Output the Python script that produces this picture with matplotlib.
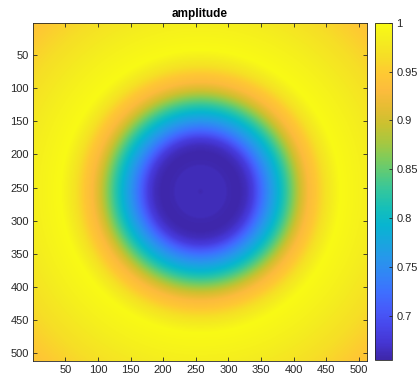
import numpy as np
import matplotlib.pyplot as plt
from matplotlib.colors import LinearSegmentedColormap

plt.rcParams['font.family'] = ['Liberation Sans', 'DejaVu Sans']

# radial amplitude profile (distance from centre in pixels)
radius = [0, 3, 6, 38, 42, 60, 70, 80, 96, 107, 122, 141, 153, 165, 176, 191, 214, 256, 300, 340, 365]
amplitude = [0.658, 0.660, 0.663, 0.663, 0.658, 0.657, 0.664, 0.68, 0.73, 0.76, 0.80, 0.86,
             0.90, 0.93, 0.945, 0.97, 0.998, 0.985, 0.968, 0.95, 0.94]
n_pix = 512
clim = (0.655, 1.0)
x_ticks = [50, 100, 150, 200, 250, 300, 350, 400, 450, 500]
y_ticks = [50, 100, 150, 200, 250, 300, 350, 400, 450, 500]
cbar_ticks = [0.7, 0.75, 0.8, 0.85, 0.9, 0.95, 1.0]
cbar_labels = ['0.7', '0.75', '0.8', '0.85', '0.9', '0.95', '1']

# parula-like colormap
parula = LinearSegmentedColormap.from_list('parula', [
    (0.2422, 0.1504, 0.6603), (0.2691, 0.2094, 0.8249), (0.2803, 0.2782, 0.9221),
    (0.2757, 0.3571, 0.9802), (0.2440, 0.4358, 0.9988), (0.1961, 0.5185, 0.9657),
    (0.1540, 0.5902, 0.9218), (0.0932, 0.6518, 0.8711), (0.0297, 0.7082, 0.8163),
    (0.0843, 0.7500, 0.7250), (0.1938, 0.7758, 0.6251), (0.3408, 0.7930, 0.4892),
    (0.5044, 0.7993, 0.3480), (0.6657, 0.7804, 0.2456), (0.7964, 0.7569, 0.1855),
    (0.9000, 0.7400, 0.2000), (0.9892, 0.7352, 0.2378), (0.9968, 0.7862, 0.1997),
    (0.9661, 0.8685, 0.1514), (0.9586, 0.9287, 0.1212), (0.9769, 0.9839, 0.0805)], N=256)

idx = np.arange(1, n_pix + 1)
xx, yy = np.meshgrid(idx, idx)
rr = np.hypot(xx - 256.5, yy - 256.5)
field = np.interp(rr, radius, amplitude)

fig = plt.figure(figsize=(4.19, 3.79), dpi=100)
ax = fig.add_axes([33 / 419, 1 - 361 / 379, 334 / 419, 338.4 / 379])
im = ax.imshow(field, cmap=parula, vmin=clim[0], vmax=clim[1], aspect='auto',
               extent=[0.5, n_pix + 0.5, n_pix + 0.5, 0.5])

gray = (0.15, 0.15, 0.15)
ax.set_xticks(x_ticks)
ax.set_yticks(y_ticks)
ax.tick_params(direction='in', length=3, width=0.6, colors=gray, labelsize=8,
               top=True, right=True, pad=3)
for s in ax.spines.values():
    s.set_color(gray)
    s.set_linewidth(0.6)
ax.set_title('amplitude', fontsize=8.5, fontweight='bold', pad=4)

cax = fig.add_axes([375 / 419, 1 - 360 / 379, 17 / 419, 337.3 / 379])
cb = fig.colorbar(im, cax=cax, ticks=cbar_ticks)
cb.ax.set_yticklabels(cbar_labels)
cb.ax.tick_params(direction='in', length=2, width=0.6, colors=gray, labelsize=8, pad=3)
cb.outline.set_edgecolor(gray)
cb.outline.set_linewidth(0.6)

fig.savefig('out.png', dpi=100)
